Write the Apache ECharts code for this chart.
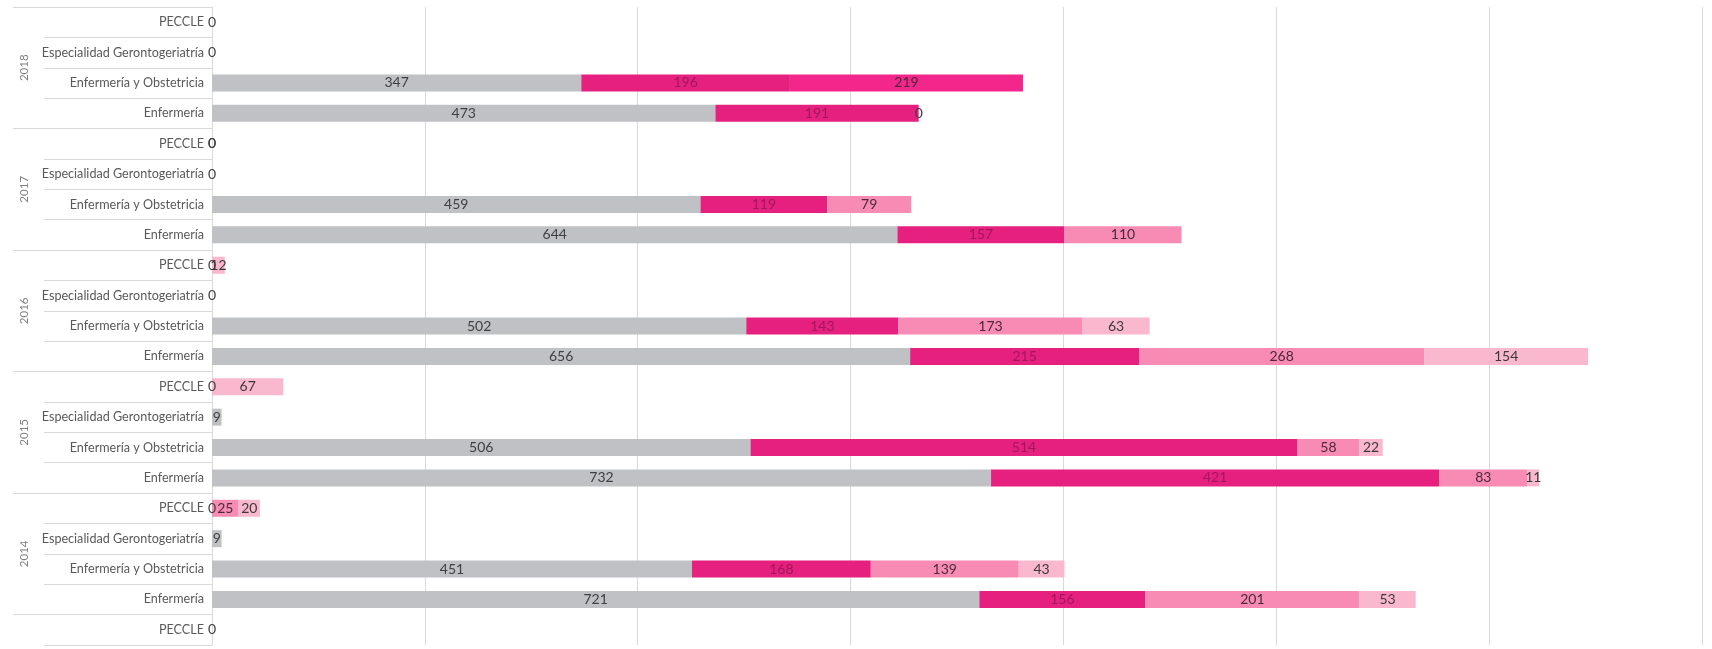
<!DOCTYPE html>
<html>
<head>
<meta charset="utf-8">
<script src="https://cdn.jsdelivr.net/npm/echarts@6/dist/echarts.min.js"></script>
<style>
html,body{margin:0;padding:0;background:#fff;}
#chart{width:1712px;height:649px;}
</style>
</head>
<body>
<div id="chart"></div>
<script>
// Categories, top to bottom
const categories = [
  'PECCLE','Especialidad Gerontogeriatría','Enfermería y Obstetricia','Enfermería',
  'PECCLE','Especialidad Gerontogeriatría','Enfermería y Obstetricia','Enfermería',
  'PECCLE','Especialidad Gerontogeriatría','Enfermería y Obstetricia','Enfermería',
  'PECCLE','Especialidad Gerontogeriatría','Enfermería y Obstetricia','Enfermería',
  'PECCLE','Especialidad Gerontogeriatría','Enfermería y Obstetricia','Enfermería',
  'PECCLE'
];
const years = ['2018','2017','2016','2015','2014'];

// Series values (same order as categories)
const serie1 = [0,0,347,473, 0,0,459,644, 0,0,502,656, 0,9,506,732, 0,9,451,721, 0];
const serie2 = [null,null,196,191, 0,null,119,157, null,null,143,215, null,null,514,421, null,null,168,156, null];
const serie3 = [null,null,219,0, null,null,79,110, null,null,173,268, null,null,58,83, 25,null,139,201, null];
const serie4 = [null,null,null,null, null,null,null,null, 12,null,63,154, 67,null,22,11, 20,null,43,53, null];

const xTicks = {min:0, max:1400, interval:200};

const yearSlots = [];
for (let i = 0; i <= categories.length; i++) yearSlots.push('');
years.forEach((y, k) => { yearSlots[4*k + 2] = y; });

const FONT = 'Lato, "Open Sans", sans-serif';
const LINE = '#D9D9D9';

function prep(data, special) {
  return data.map((v, i) => {
    if (v === null) return v;
    const item = {value: v};
    if (v === 0) item.label = {color: '#404040'};
    if (special && special[i]) item.itemStyle = {color: special[i]};
    return (item.label || item.itemStyle) ? item : v;
  });
}

function mkSeries(name, data, color, labelColor) {
  return {
    name: name, type: 'bar', stack: 'total', barWidth: 17,
    data: data,
    itemStyle: {color: color},
    label: {show: true, position: 'inside', color: labelColor, fontFamily: FONT, fontSize: 14},
    emphasis: {disabled: true}
  };
}

const chart = echarts.init(document.getElementById('chart'), null, {renderer: 'canvas'});
chart.setOption({
  animation: false,
  grid: {left: 212, right: 10, top: 7, bottom: 4, containLabel: false},
  xAxis: {
    type: 'value', min: xTicks.min, max: xTicks.max, interval: xTicks.interval,
    axisLabel: {show: false}, axisLine: {show: false}, axisTick: {show: false},
    splitLine: {show: true, lineStyle: {color: LINE, width: 1}}
  },
  yAxis: [
    {
      type: 'category', inverse: true, data: categories, position: 'left',
      axisLine: {show: true, lineStyle: {color: LINE}},
      axisTick: {show: true, length: 168, lineStyle: {color: LINE}},
      axisLabel: {margin: 8, fontFamily: FONT, fontSize: 12.6, color: '#595959'}
    },
    {
      type: 'category', inverse: true, data: yearSlots, position: 'left', boundaryGap: false,
      axisLine: {show: false},
      axisTick: {show: true, length: 199, interval: function (i) { return i % 4 === 0 && i < categories.length; }, lineStyle: {color: LINE}},
      axisLabel: {interval: 0, rotate: 90, margin: 182, fontFamily: FONT, fontSize: 11.5, color: '#7F7F7F'}
    }
  ],
  series: [
    mkSeries('Serie 1', prep(serie1), '#C0C1C5', '#404040'),
    mkSeries('Serie 2', prep(serie2), '#E6207E', '#A0185C'),
    mkSeries('Serie 3', prep(serie3, {2: '#F3268C'}), '#F78BB3', '#4A2A38'),
    mkSeries('Serie 4', prep(serie4), '#F9B8CD', '#3A3A3A')
  ]
});
</script>
</body>
</html>
